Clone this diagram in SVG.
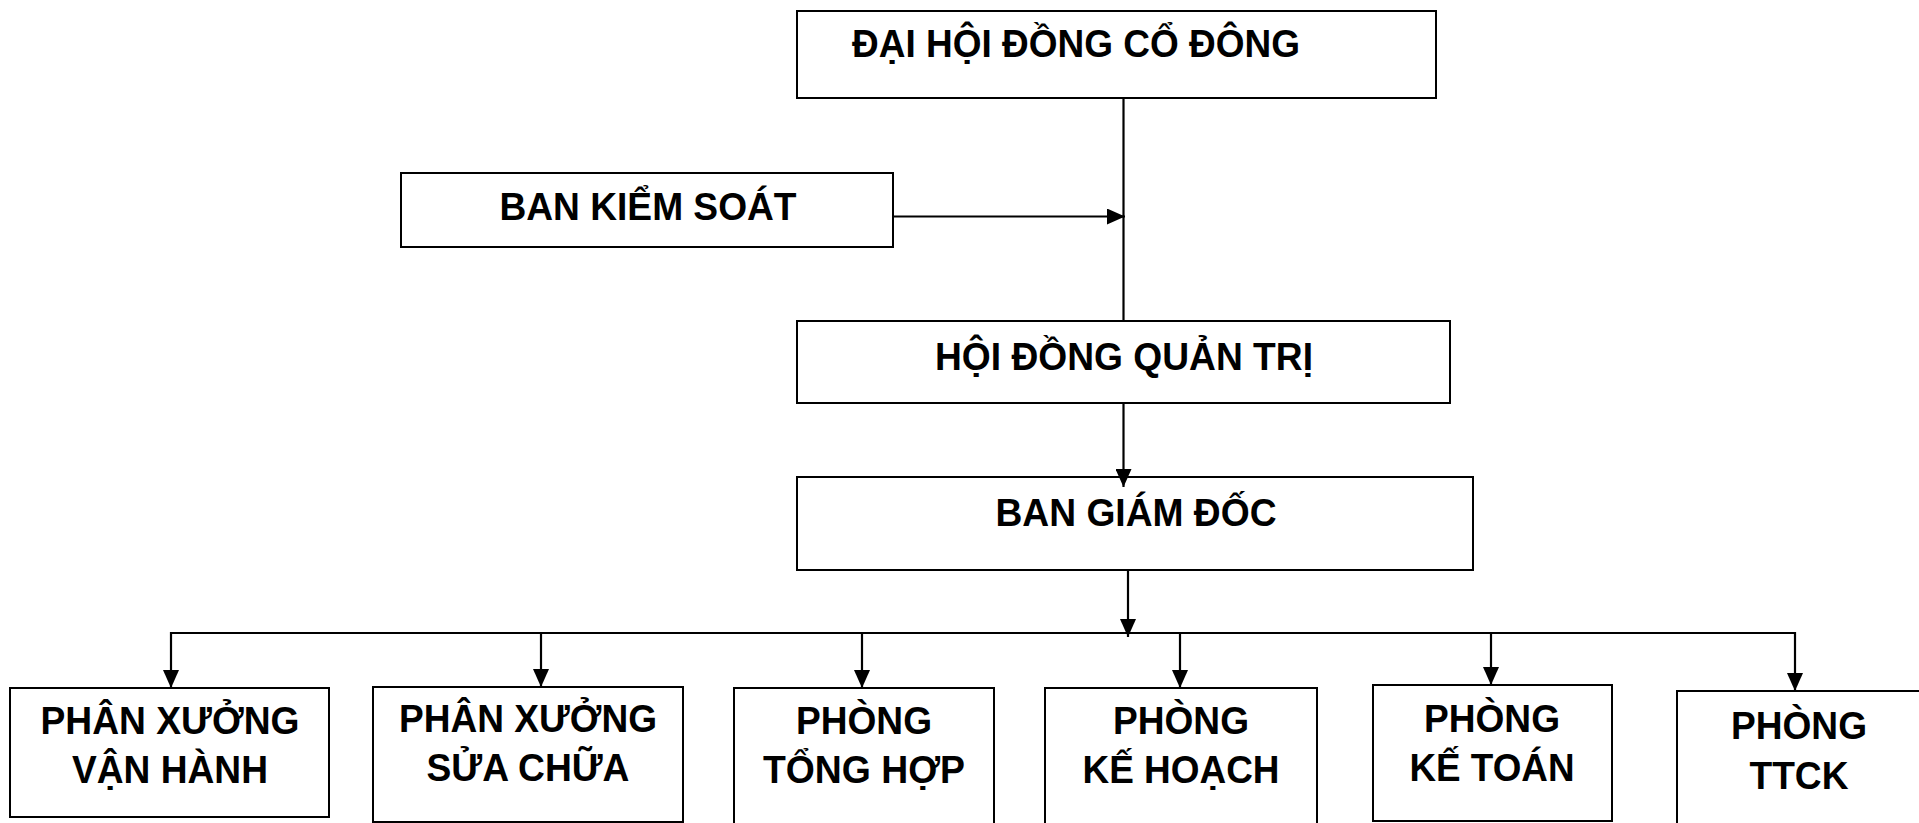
<svg xmlns="http://www.w3.org/2000/svg" width="1919" height="823" viewBox="0 0 1919 823">
<defs>
<marker id="arr" viewBox="0 0 18 16" refX="18" refY="8" markerWidth="18" markerHeight="16" markerUnits="userSpaceOnUse" orient="auto">
<path d="M0,0 L18,8 L0,16 z" fill="#000"/>
</marker>
<style>
.box{fill:#fff;stroke:#000;stroke-width:2}
.lbl{font-family:"Liberation Sans",Arial,sans-serif;font-weight:bold;font-size:39px;fill:#000}
.c{text-anchor:middle}
.ln{stroke:#000;stroke-width:2.2;fill:none}
</style>
</defs>
<rect width="1919" height="823" fill="#fff"/>
<g id="dhdcd">
<rect class="box" x="797" y="11" width="639" height="87"/>
<text class="lbl" x="852" y="57" textLength="448" lengthAdjust="spacingAndGlyphs">ĐẠI HỘI ĐỒNG CỔ ĐÔNG</text>
</g>
<g id="bks">
<rect class="box" x="401" y="173" width="492" height="74"/>
<text class="lbl c" x="648" y="220" textLength="297" lengthAdjust="spacingAndGlyphs">BAN KIỂM SOÁT</text>
</g>
<g id="hdqt">
<rect class="box" x="797" y="321" width="653" height="82"/>
<text class="lbl c" x="1124" y="370" textLength="378" lengthAdjust="spacingAndGlyphs">HỘI ĐỒNG QUẢN TRỊ</text>
</g>
<g id="bgd">
<rect class="box" x="797" y="477" width="676" height="93"/>
<text class="lbl c" x="1136" y="526" textLength="281" lengthAdjust="spacingAndGlyphs">BAN GIÁM ĐỐC</text>
</g>
<g id="pxvh">
<rect class="box" x="10" y="688" width="319" height="129"/>
<text class="lbl c" x="170" y="734" textLength="259" lengthAdjust="spacingAndGlyphs">PHÂN XƯỞNG</text>
<text class="lbl c" x="170" y="783" textLength="196" lengthAdjust="spacingAndGlyphs">VẬN HÀNH</text>
</g>
<g id="pxsc">
<rect class="box" x="373" y="687" width="310" height="135"/>
<text class="lbl c" x="528" y="732" textLength="258" lengthAdjust="spacingAndGlyphs">PHÂN XƯỞNG</text>
<text class="lbl c" x="528" y="781" textLength="203" lengthAdjust="spacingAndGlyphs">SỬA CHỮA</text>
</g>
<g id="pth">
<rect class="box" x="734" y="688" width="260" height="140"/>
<text class="lbl c" x="864" y="734" textLength="136" lengthAdjust="spacingAndGlyphs">PHÒNG</text>
<text class="lbl c" x="864" y="783" textLength="202" lengthAdjust="spacingAndGlyphs">TỔNG HỢP</text>
</g>
<g id="pkh">
<rect class="box" x="1045" y="688" width="272" height="140"/>
<text class="lbl c" x="1181" y="734" textLength="136" lengthAdjust="spacingAndGlyphs">PHÒNG</text>
<text class="lbl c" x="1181" y="783" textLength="197" lengthAdjust="spacingAndGlyphs">KẾ HOẠCH</text>
</g>
<g id="pkt">
<rect class="box" x="1373" y="685" width="239" height="136"/>
<text class="lbl c" x="1492" y="732" textLength="136" lengthAdjust="spacingAndGlyphs">PHÒNG</text>
<text class="lbl c" x="1492" y="781" textLength="165" lengthAdjust="spacingAndGlyphs">KẾ TOÁN</text>
</g>
<g id="pttck">
<rect class="box" x="1677" y="691" width="250" height="140"/>
<text class="lbl c" x="1799" y="739" textLength="136" lengthAdjust="spacingAndGlyphs">PHÒNG</text>
<text class="lbl c" x="1799" y="789" textLength="99" lengthAdjust="spacingAndGlyphs">TTCK</text>
</g>
<g id="connectors">
<line class="ln" x1="1123.5" y1="98" x2="1123.5" y2="321"/>
<line class="ln" x1="893" y1="216.5" x2="1125" y2="216.5" marker-end="url(#arr)"/>
<line class="ln" x1="1123.5" y1="403" x2="1123.5" y2="487" marker-end="url(#arr)"/>
<line class="ln" x1="1128" y1="570" x2="1128" y2="637" marker-end="url(#arr)"/>
<line class="ln" x1="171" y1="633" x2="1795" y2="633"/>
<line class="ln" x1="171" y1="632" x2="171" y2="688" marker-end="url(#arr)"/>
<line class="ln" x1="541" y1="633" x2="541" y2="687" marker-end="url(#arr)"/>
<line class="ln" x1="862" y1="633" x2="862" y2="688" marker-end="url(#arr)"/>
<line class="ln" x1="1180" y1="633" x2="1180" y2="688" marker-end="url(#arr)"/>
<line class="ln" x1="1491" y1="633" x2="1491" y2="685" marker-end="url(#arr)"/>
<line class="ln" x1="1795" y1="632" x2="1795" y2="691" marker-end="url(#arr)"/>
</g>
</svg>
